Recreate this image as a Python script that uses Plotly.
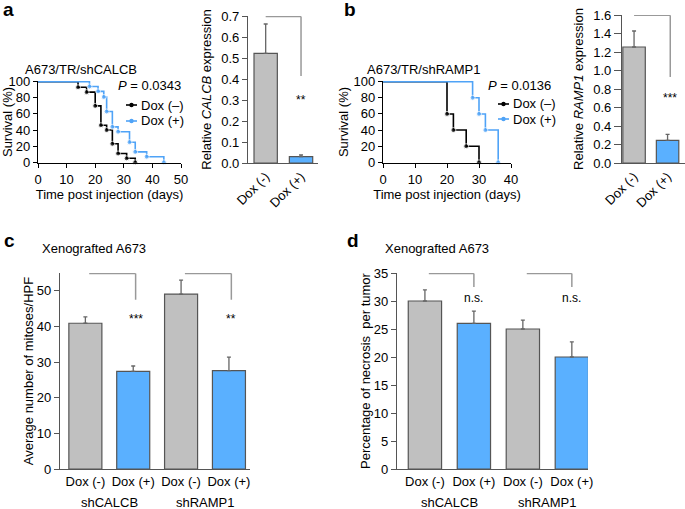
import plotly.graph_objects as go

W, H = 685, 509
FONT = "Liberation Sans, Arial, sans-serif"

# ---------------- data ----------------
# Panel a: Kaplan-Meier, A673/TR/shCALCB
a_ctrl_days = [0, 14, 17, 20, 22, 24, 26, 28, 31, 34]
a_ctrl_surv = [100, 93, 87, 70, 46, 40, 23, 11, 5, 0]
a_dox_days = [0, 18, 21, 23, 24, 26, 28, 32, 34, 38, 44]
a_dox_surv = [100, 94, 88, 81, 63, 44, 38, 25, 13, 7, 0]
a_pvalue = "0.0343"

# Panel a: relative CALCB expression
expr_cats = ["Dox (-)", "Dox (+)"]
calcb_vals = [0.522, 0.030]
calcb_err = [0.140, 0.008]

# Panel b: Kaplan-Meier, A673/TR/shRAMP1
b_ctrl_days = [0, 20, 22, 26, 30]
b_ctrl_surv = [100, 60, 40, 20, 0]
b_dox_days = [0, 28, 30, 32, 36]
b_dox_surv = [100, 80, 60, 40, 0]
b_pvalue = "0.0136"

# Panel b: relative RAMP1 expression
ramp1_vals = [1.254, 0.245]
ramp1_err = [0.173, 0.065]

# Panel c/d: xenografts
xeno_ticks = ["Dox (-)", "Dox (+)", "Dox (-)", "Dox (+)"]
xeno_groups = ["shCALCB", "shRAMP1"]
mitoses_vals = [40.9, 27.4, 49.1, 27.6]
mitoses_err = [1.8, 1.5, 3.9, 3.8]
mitoses_sig = ["***", "**"]
necrosis_vals = [30.0, 26.0, 25.0, 20.0]
necrosis_err = [2.0, 2.2, 1.6, 2.7]
necrosis_sig = ["n.s.", "n.s."]

GRAY = "#C0C0C0"
BLUE = "#5AB0FF"
KM_BLUE = "#4FA3F7"
BAR_COLORS4 = [GRAY, BLUE, GRAY, BLUE]


def px(x):
    return x / W


def py(y):
    return 1 - y / H


fig = go.Figure()


# ---------- KM curves ----------
def km(days, surv, color, xa, ya):
    sizes = [0] + [5] * (len(days) - 1)
    fig.add_trace(go.Scatter(
        x=days, y=surv, mode="lines+markers", line_shape="hv",
        line=dict(color=color, width=1.6),
        marker=dict(color=color, size=sizes, symbol="circle"),
        xaxis=xa, yaxis=ya, showlegend=False, cliponaxis=False))


km(a_ctrl_days, a_ctrl_surv, "black", "x", "y")
km(a_dox_days, a_dox_surv, KM_BLUE, "x", "y")
km(b_ctrl_days, b_ctrl_surv, "black", "x3", "y3")
km(b_dox_days, b_dox_surv, KM_BLUE, "x3", "y3")


def bars(xs, vals, err, colors, xa, ya, width):
    fig.add_trace(go.Bar(
        x=xs, y=vals, width=width,
        marker=dict(color=colors, line=dict(color="#555555", width=1.2)),
        error_y=dict(type="data", array=err, arrayminus=[0] * len(err), symmetric=False,
                     color="#666666", thickness=1.3, width=2),
        xaxis=xa, yaxis=ya, showlegend=False))


bars([0, 1], calcb_vals, calcb_err, [GRAY, BLUE], "x2", "y2", 0.66)
bars([0, 1], ramp1_vals, ramp1_err, [GRAY, BLUE], "x4", "y4", 0.67)
bars([0, 1, 2, 3], mitoses_vals, mitoses_err, BAR_COLORS4, "x5", "y5", 0.69)
bars([0, 1, 2, 3], necrosis_vals, necrosis_err, BAR_COLORS4, "x6", "y6", 0.68)

tickfont = dict(family=FONT, size=13, color="black")
titlefont = dict(family=FONT, size=13, color="black")


def km_axes(xdom, xmax, xdtick):
    xa = dict(domain=xdom, range=[0, xmax], dtick=xdtick, showline=True, linecolor="black",
              linewidth=1.2, ticks="outside", ticklen=4, tickcolor="black", showgrid=False,
              zeroline=False, tickfont=tickfont, automargin=False,
              title=dict(text="Time post injection (days)", font=titlefont, standoff=4))
    ya = dict(domain=[py(163), py(81)], range=[-0.8, 100.8], tickvals=[0, 20, 40, 60, 80, 100],
              showline=True, linecolor="black", linewidth=1.2, ticks="outside", ticklen=4,
              tickcolor="black", showgrid=False, zeroline=False, tickfont=tickfont, automargin=False,
              title=dict(text="Survival (%)", font=titlefont, standoff=2))
    return xa, ya


xa1, ya1 = km_axes([px(38), px(181)], 50, 10)
xa3, ya3 = km_axes([px(383), px(511)], 40, 10)
ya1["anchor"] = "x"; xa1["anchor"] = "y"
xa3["anchor"] = "y3"; ya3["anchor"] = "x3"


def bar_yaxis(dom, rng, dtick, title, anchor, fmt=None, ticklen=5, standoff=6):
    d = dict(domain=dom, range=rng, dtick=dtick, showline=True, linecolor="#555555",
             linewidth=1.2, ticks="outside", ticklen=ticklen, tickcolor="#555555", showgrid=False,
             zeroline=False, tickfont=tickfont, anchor=anchor, automargin=False,
             title=dict(text=title, font=titlefont, standoff=standoff))
    if fmt:
        d["tickformat"] = fmt
    return d


def bar_xaxis(dom, rng, ticktext, anchor, angle=0):
    return dict(domain=dom, range=rng, tickvals=list(range(len(ticktext))), ticktext=ticktext,
                showline=True, linecolor="#555555", linewidth=1.2, ticks="", showgrid=False,
                zeroline=False, tickfont=tickfont, tickangle=angle, anchor=anchor, automargin=False)


xa2 = bar_xaxis([px(248), px(318)], [-0.5, 1.48], expr_cats, "y2", -45)
ya2 = bar_yaxis([py(163), py(16)], [0, 0.7], 0.1, "Relative <i>CALCB</i> expression", "x2", ".1f")
xa4 = bar_xaxis([px(622), 1.0], [-0.36, 1.52], expr_cats, "y4", -45)
ya4 = bar_yaxis([py(163), py(15)], [0, 1.6], 0.2, "Relative <i>RAMP1</i> expression", "x4", ".1f", 7)
xa5 = bar_xaxis([px(60), px(250)], [-0.53, 3.44], xeno_ticks, "y5")
ya5 = bar_yaxis([py(469), py(273)], [0, 55], 10, "Average number of mitoses/HPF", "x5", standoff=0)
xa6 = bar_xaxis([px(397), px(588)], [-0.57, 3.33], xeno_ticks, "y6")
ya6 = bar_yaxis([py(469), py(273)], [0, 35], 5, "Percentage of necrosis  per tumor", "x6", standoff=0)

shapes = []
annotations = []


def bracket(xref, yref, x0, x1, top, drop):
    lc = dict(color="#999999", width=1.5)
    shapes.append(dict(type="line", xref=xref, yref=yref, x0=x0, x1=x1, y0=top, y1=top, line=lc))
    shapes.append(dict(type="line", xref=xref, yref=yref, x0=x1, x1=x1, y0=top, y1=drop, line=lc))


def star(xref, yref, x, y, text):
    annotations.append(dict(xref=xref, yref=yref, x=x, y=y, text=text, showarrow=False,
                            font=dict(family=FONT, size=12, color="black"),
                            xanchor="center", yanchor="middle"))


# brackets / significance
bracket("x2", "y2", 0, 1, 0.698, 0.414); star("x2", "y2", 1, 0.30, "**")
bracket("x4", "y4", 0, 1.08, 1.596, 0.93); star("x4", "y4", 1.08, 0.70, "***")
for i, s in enumerate(mitoses_sig):
    bracket("x5", "y5", 2 * i + 0.08, 2 * i + 1.05, 54.85, 47.5)
    star("x5", "y5", 2 * i + 1.05, 42.0, s)
for i, s in enumerate(necrosis_sig):
    bracket("x6", "y6", 2 * i + 0.08, 2 * i + 1.0, 34.9, 32.5)
    star("x6", "y6", 2 * i + 1.0, 30.5, s)

# group labels under c and d
for i, g in enumerate(xeno_groups):
    for xr in ("x5", "x6"):
        annotations.append(dict(xref=xr, yref="paper", x=2 * i + 0.5, y=py(502), text=g,
                                showarrow=False, font=tickfont, xanchor="center", yanchor="middle",
                                borderpad=0))


def ptext(x, y, text, size=13, anchor="left", bold=False):
    t = f"<b>{text}</b>" if bold else text
    annotations.append(dict(xref="paper", yref="paper", x=px(x), y=py(y), text=t, showarrow=False,
                            font=dict(family=FONT, size=size, color="black"),
                            xanchor=anchor, yanchor="middle"))


# panel letters
ptext(1, 9, "a", 19, bold=True)
ptext(342, 9, "b", 19, bold=True)
ptext(2, 240, "c", 19, bold=True)
ptext(345, 240, "d", 19, bold=True)

# KM titles, p values, legends
ptext(23, 69, "A673/TR/shCALCB")
ptext(365, 69, "A673/TR/shRAMP1")
ptext(116, 86, f"<i>P</i> = {a_pvalue}")
ptext(486, 86, f"<i>P</i> = {b_pvalue}")
ptext(40, 248, "Xenografted A673")
ptext(383, 248, "Xenografted A673")


def legend_item(x, y, color, label):
    shapes.append(dict(type="line", xref="paper", yref="paper", x0=px(x), x1=px(x + 11),
                       y0=py(y), y1=py(y), line=dict(color=color, width=1.6)))
    r = 2.2
    shapes.append(dict(type="circle", xref="paper", yref="paper", x0=px(x + 5.5 - r),
                       x1=px(x + 5.5 + r), y0=py(y + r), y1=py(y - r),
                       fillcolor=color, line=dict(color=color, width=0)))
    ptext(x + 13, y, label)


legend_item(126, 105, "black", "Dox (–)")
legend_item(126, 121, KM_BLUE, "Dox (+)")
legend_item(498, 104, "black", "Dox (–)")
legend_item(498, 119, KM_BLUE, "Dox (+)")

fig.update_layout(
    width=W, height=H, margin=dict(l=0, r=0, t=0, b=0, autoexpand=False),
    paper_bgcolor="white", plot_bgcolor="white",
    font=dict(family=FONT, size=13, color="black"),
    xaxis=xa1, yaxis=ya1, xaxis2=xa2, yaxis2=ya2, xaxis3=xa3, yaxis3=ya3,
    xaxis4=xa4, yaxis4=ya4, xaxis5=xa5, yaxis5=ya5, xaxis6=xa6, yaxis6=ya6,
    shapes=shapes, annotations=annotations, bargap=0.3,
)

fig.write_html(
    "out.html",
    config={"displayModeBar": False},
    post_script="document.body.style.margin='0';document.body.style.overflow='hidden';"
                "document.documentElement.style.overflow='hidden';",
)
